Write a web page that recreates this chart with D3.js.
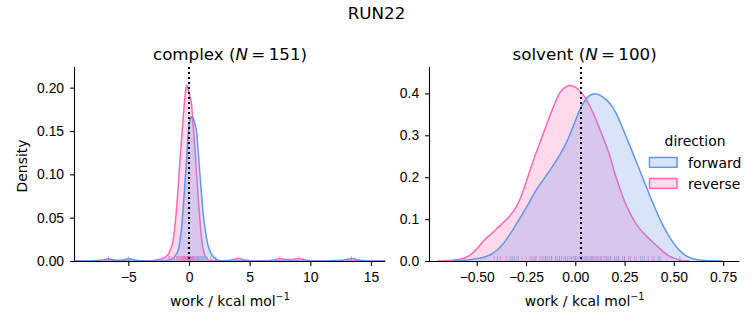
<!DOCTYPE html>
<html lang="en">
<head>
<meta charset="UTF-8">
<title>RUN22</title>
<script src="https://d3js.org/d3.v7.min.js"></script>
<style>
    body { margin: 0; background: white; }
    svg { font-family: "DejaVu Sans", sans-serif; }
    .tick text { font-size: 13.9px; fill: #000; }
    .domain, .tick line { stroke: #000; stroke-width: 1.1; }
</style>
</head>
<body>
<div id="chart"></div>
<script>
    // density curves: [work, density]
    const complexForward = [[-9.4,0],[-8.0,0.0002],[-7.3,0.0008],[-6.65,0.0025],[-6.0,0.001],[-5.5,0.0012],[-5.0,0.0025],[-4.4,0.001],[-3.8,0.0003],[-3.0,0.0001],[-2.0,0.0003],[-1.6,0.0015],[-1.29,0.003],[-1.1,0.007],[-0.88,0.013],[-0.74,0.024],[-0.60,0.040],[-0.47,0.063],[-0.33,0.090],[-0.2,0.118],[-0.06,0.148],[0.1,0.163],[0.27,0.167],[0.45,0.16],[0.63,0.148],[0.77,0.124],[0.91,0.098],[1.05,0.074],[1.18,0.052],[1.38,0.032],[1.59,0.017],[1.8,0.009],[2.0,0.005],[2.3,0.0015],[2.6,0.0003],[3.5,0.0001],[6,0],[11,0.0001],[12.2,0.0005],[12.8,0.0012],[13.4,0.003],[14.0,0.0012],[14.7,0.0004],[15.6,0.0001],[16.2,0]];
    const complexReverse = [[-9.4,0],[-3.5,0],[-3.0,0.0004],[-2.6,0.0015],[-2.39,0.002],[-2.0,0.004],[-1.7,0.008],[-1.5,0.014],[-1.29,0.025],[-1.15,0.042],[-1.01,0.063],[-0.87,0.09],[-0.74,0.117],[-0.6,0.143],[-0.47,0.167],[-0.33,0.19],[-0.19,0.203],[-0.05,0.197],[0.08,0.19],[0.22,0.179],[0.35,0.155],[0.49,0.129],[0.63,0.1],[0.77,0.071],[0.91,0.046],[1.05,0.025],[1.18,0.013],[1.32,0.006],[1.5,0.002],[1.73,0.0005],[2.2,0.0002],[3.0,0.0003],[3.5,0.0012],[4.04,0.003],[4.6,0.0012],[5.2,0.0002],[6.5,0.0003],[7.0,0.0013],[7.5,0.003],[8.0,0.0017],[8.4,0.0016],[9.07,0.003],[9.6,0.0012],[10.3,0.0002],[11,0],[16.2,0]];
    const solventForward = [[-0.62,0],[-0.568,0.001],[-0.52,0.004],[-0.466,0.009],[-0.43,0.015],[-0.399,0.025],[-0.365,0.042],[-0.331,0.064],[-0.298,0.089],[-0.264,0.115],[-0.23,0.143],[-0.196,0.171],[-0.153,0.2],[-0.111,0.229],[-0.075,0.256],[-0.040,0.288],[-0.010,0.322],[0.024,0.362],[0.05,0.383],[0.074,0.395],[0.1,0.399],[0.135,0.393],[0.176,0.376],[0.21,0.35],[0.243,0.314],[0.277,0.275],[0.311,0.235],[0.345,0.195],[0.379,0.155],[0.412,0.118],[0.446,0.084],[0.48,0.056],[0.514,0.033],[0.548,0.017],[0.581,0.008],[0.62,0.003],[0.666,0.001],[0.75,0]];
    const solventReverse = [[-0.7,0],[-0.669,0.0005],[-0.62,0.002],[-0.568,0.006],[-0.54,0.012],[-0.517,0.021],[-0.49,0.034],[-0.466,0.048],[-0.43,0.063],[-0.399,0.077],[-0.365,0.092],[-0.331,0.108],[-0.305,0.125],[-0.28,0.148],[-0.255,0.18],[-0.23,0.216],[-0.205,0.25],[-0.179,0.283],[-0.153,0.316],[-0.128,0.348],[-0.1,0.38],[-0.078,0.402],[-0.05,0.415],[-0.027,0.419],[0.0,0.415],[0.024,0.405],[0.05,0.39],[0.074,0.370],[0.1,0.343],[0.125,0.314],[0.15,0.284],[0.176,0.25],[0.2,0.21],[0.227,0.172],[0.252,0.14],[0.277,0.115],[0.3,0.095],[0.328,0.076],[0.36,0.06],[0.395,0.044],[0.43,0.029],[0.463,0.016],[0.5,0.007],[0.531,0.002],[0.58,0]];

    // rug values (individual work values)
    const complexForwardRug = [-6.65,-5.0,-1.6,-1.2,-1.0,-0.8,-0.6,-0.5,-0.4,-0.3,-0.2,-0.1,0,0.1,0.15,0.2,0.3,0.35,0.4,0.5,0.6,0.7,0.8,0.9,1.0,1.1,1.3,1.5,1.8,2.2,13.4];
    const complexReverseRug = [-2.2,-1.7,-1.4,-1.2,-1.0,-0.9,-0.8,-0.7,-0.6,-0.5,-0.45,-0.4,-0.35,-0.3,-0.25,-0.2,-0.15,-0.1,-0.05,0,0.05,0.1,0.2,0.3,0.4,0.5,0.7,0.9,1.2,4.04,7.5,9.07];
    const solventForwardRug = [-0.33,-0.32,-0.31,-0.29,-0.22,-0.2,-0.17,-0.15,-0.14,-0.12,-0.1,-0.08,-0.07,-0.05,-0.04,-0.02,0.0,0.01,0.03,0.04,0.05,0.06,0.07,0.08,0.09,0.1,0.11,0.12,0.13,0.15,0.16,0.17,0.18,0.2,0.21,0.22,0.24,0.25,0.27,0.28,0.3,0.33,0.35,0.37,0.4,0.42,0.43,0.53];
    const solventReverseRug = [-0.41,-0.395,-0.38,-0.35,-0.3,-0.27,-0.25,-0.23,-0.21,-0.2,-0.18,-0.16,-0.15,-0.13,-0.12,-0.1,-0.09,-0.08,-0.06,-0.05,-0.03,-0.02,-0.01,0.0,0.02,0.03,0.05,0.06,0.08,0.09,0.11,0.13,0.14,0.16,0.18,0.2,0.22,0.25,0.28,0.31,0.34,0.39];

    const complexTicksX = [-5, 0, 5, 10, 15];
    const complexTicksY = [0, 0.05, 0.10, 0.15, 0.20];
    const solventTicksX = [-0.5, -0.25, 0, 0.25, 0.5, 0.75];
    const solventTicksY = [0, 0.1, 0.2, 0.3, 0.4];

    const directions = ["forward", "reverse"];
    const colors = { forward: "#6495ed", reverse: "#ff69b4" };

    const W = 753, H = 325;
    const svg = d3.select("#chart").append("svg").attr("width", W).attr("height", H);

    svg.append("text").attr("x", 376.5).attr("y", 19).attr("text-anchor", "middle")
        .style("font-size", "16.7px").text("RUN22");

    const minus = s => s.replace("-", "\u2212");

    function panel(opt) {
        const x = d3.scaleLinear().domain(opt.xDomain).range([opt.left, opt.right]);
        const y = d3.scaleLinear().domain(opt.yDomain).range([261, 67]);
        const g = svg.append("g");

        const area = d3.area().x(d => x(d[0])).y0(y(0)).y1(d => y(d[1])).curve(d3.curveMonotoneX);
        const line = d3.line().x(d => x(d[0])).y(d => y(d[1])).curve(d3.curveMonotoneX);

        // reverse drawn first, forward on top (seaborn order)
        [["reverse", opt.reverse], ["forward", opt.forward]].forEach(([k, pts]) => {
            g.append("path").attr("d", area(pts)).attr("fill", colors[k]).attr("fill-opacity", 0.25);
            g.append("path").attr("d", line(pts)).attr("fill", "none")
                .attr("stroke", colors[k]).attr("stroke-width", 1.5);
        });

        // rugs
        [["forward", opt.rugF], ["reverse", opt.rugR]].forEach(([k, vals]) => {
            g.selectAll(null).data(vals).enter().append("line")
                .attr("x1", d => x(d)).attr("x2", d => x(d))
                .attr("y1", 261).attr("y2", 256)
                .attr("stroke", colors[k]).attr("stroke-opacity", 0.6).attr("stroke-width", 1);
        });

        // dotted reference line
        g.append("line").attr("x1", x(opt.vline)).attr("x2", x(opt.vline))
            .attr("y1", 67).attr("y2", 261)
            .attr("stroke", "#000").attr("stroke-width", 2).attr("stroke-dasharray", "2,3");

        g.append("g").attr("transform", "translate(0,261)")
            .call(d3.axisBottom(x).tickValues(opt.xTicks).tickSize(4.9).tickPadding(6.5)
                .tickFormat(d => minus(opt.xFmt(d))))
            .call(a => a.select(".domain").attr("d", `M${opt.left},0.5H${opt.right}`));
        g.append("g").attr("transform", `translate(${opt.left},0)`)
            .call(d3.axisLeft(y).tickValues(opt.yTicks).tickSize(4.9).tickPadding(6)
                .tickFormat(opt.yFmt))
            .call(a => a.select(".domain").attr("d", "M-0.5,261V67"));

        const cx = (opt.left + opt.right) / 2;
        const t = g.append("text").attr("x", cx).attr("y", 60).attr("text-anchor", "middle")
            .style("font-size", "16.7px");
        t.append("tspan").text(opt.name + " (");
        t.append("tspan").style("font-style", "italic").text("N");
        t.append("tspan").text("\u2009=\u2009" + opt.n + ")");

        const xl = g.append("text").attr("x", cx).attr("y", 305.5).attr("text-anchor", "middle")
            .style("font-size", "13.9px");
        xl.append("tspan").text("work / kcal mol");
        xl.append("tspan").attr("dy", -6).style("font-size", "9.7px").text("\u22121");
    }

    panel({
        name: "complex", n: 151, left: 75, right: 385,
        xDomain: [-9.4, 16.16], yDomain: [0, 0.2238],
        forward: complexForward, reverse: complexReverse,
        rugF: complexForwardRug, rugR: complexReverseRug, vline: 0,
        xTicks: complexTicksX, yTicks: complexTicksY,
        xFmt: d3.format("d"), yFmt: d3.format(".2f")
    });
    panel({
        name: "solvent", n: 100, left: 430, right: 739.3,
        xDomain: [-0.737, 0.832], yDomain: [0, 0.463],
        forward: solventForward, reverse: solventReverse,
        rugF: solventForwardRug, rugR: solventReverseRug, vline: 0.029,
        xTicks: solventTicksX, yTicks: solventTicksY,
        xFmt: d3.format(".2f"), yFmt: d3.format(".1f")
    });

    svg.append("text").attr("transform", "translate(26.5,166) rotate(-90)")
        .attr("text-anchor", "middle").style("font-size", "13.9px").text("Density");

    // legend
    const lg = svg.append("g");
    lg.append("text").attr("x", 695).attr("y", 146).attr("text-anchor", "middle")
        .style("font-size", "13.9px").text("direction");
    directions.forEach((k, i) => {
        const yy = 157.5 + i * 21;
        lg.append("rect").attr("x", 649.5).attr("y", yy).attr("width", 27.5).attr("height", 9.8)
            .attr("fill", colors[k]).attr("fill-opacity", 0.25)
            .attr("stroke", colors[k]).attr("stroke-width", 1.5);
        lg.append("text").attr("x", 688).attr("y", yy + 10).style("font-size", "13.9px").text(k);
    });
</script>
</body>
</html>
